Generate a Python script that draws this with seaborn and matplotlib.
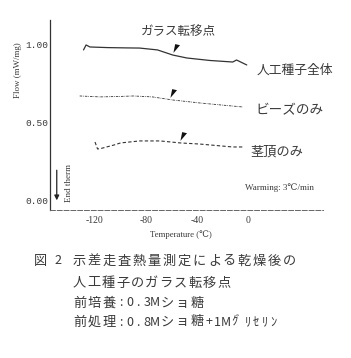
import matplotlib
matplotlib.use("Agg")
import matplotlib.pyplot as plt
import seaborn as sns
import pandas as pd
import numpy as np
from matplotlib.path import Path

# ---- data ----
temps_whole = [-129, -127, -124, -110, -95, -85, -71, -59, -48, -30, -12, -9, -1]
flow_whole = [0.968, 1.000, 0.987, 0.983, 0.981, 0.980, 0.968, 0.935, 0.916, 0.900, 0.890, 0.903, 0.871]

temps_beads = [-132, -116, -100, -90, -75, -59, -38, -20, -4]
flow_beads = [0.671, 0.665, 0.668, 0.671, 0.665, 0.645, 0.626, 0.612, 0.600]

temps_tip = [-120, -118, -115, -105, -100, -85, -69, -53, -38, -12, -4]
flow_tip = [0.374, 0.329, 0.333, 0.355, 0.368, 0.381, 0.381, 0.368, 0.361, 0.342, 0.342]

series_names = ["人工種子全体", "ビーズのみ", "茎頂のみ"]
tg_temps = [-56.5, -59, -51]
tg_flows = [0.980, 0.690, 0.410]

x_major = [-120, -80, -40, 0]
x_minor = [-140, -100, -60, -20, 20, 40]
y_ticks = [0.0, 0.5, 1.0]
y_ticklabels = ["0.00", "0.50", "1.00"]

caption_head = "図２"
caption_lines = [
    "示差走査熱量測定による乾燥後の",
    "人工種子のガラス転移点",
    "前培養:0.3Mショ糖",
    "前処理:0.8Mショ糖+1Mｸﾞﾘｾﾘﾝ",
]

sns.set_theme(style="white")
plt.rcParams['font.family'] = ['Noto Sans CJK JP', 'DejaVu Sans']

TXT = "#3a3a3a"
W, H = 351, 358
fig = plt.figure(figsize=(W/100, H/100), dpi=100)
ax = fig.add_axes([50/W, 1-210/H, (323-50)/W, (210-20)/H])

df = pd.concat([
    pd.DataFrame({"T": temps_whole, "F": flow_whole, "s": series_names[0]}),
    pd.DataFrame({"T": temps_beads, "F": flow_beads, "s": series_names[1]}),
    pd.DataFrame({"T": temps_tip, "F": flow_tip, "s": series_names[2]}),
])

styles = {series_names[0]: ("-", 0.9), series_names[1]: ((0, (3, 1.2, 0.8, 1.2)), 0.6),
          series_names[2]: ((0, (3, 2)), 0.8)}
for name in series_names:
    sub = df[df.s == name]
    ls, lw = styles[name]
    sns.lineplot(data=sub, x="T", y="F", ax=ax, color="#333333", lw=lw,
                 linestyle=ls, sort=False, estimator=None)

flag = Path([(-0.3, 1.0), (0.8, 0.75), (-0.7, -1.0), (-0.3, 1.0)],
            [Path.MOVETO, Path.LINETO, Path.LINETO, Path.CLOSEPOLY])
ax.scatter(tg_temps, tg_flows, marker=flag, s=40, color="#111111", lw=0, zorder=5)

ax.set_xlim(-155.3, 58.8)
ax.set_ylim(-0.0645, 1.161)
ax.set_xticks(x_major)
ax.set_xticks(x_minor, minor=True)
ax.set_xticklabels([str(v) for v in x_major], family="Liberation Serif", fontsize=7, color=TXT)
ax.set_yticks(y_ticks)
ax.set_yticklabels(y_ticklabels, family="Liberation Mono", fontsize=6.8, color=TXT)
ax.tick_params(axis="x", which="both", direction="in", length=4, width=0.7, color="#555555", pad=4)
ax.tick_params(axis="y", direction="in", length=0, pad=1)
ax.set_xlabel("")
ax.set_ylabel("")
for side in ["top", "right"]:
    ax.spines[side].set_visible(False)
ax.spines["left"].set_color("#333333")
ax.spines["left"].set_linewidth(0.9)
ax.spines["bottom"].set_color("#666666")
ax.spines["bottom"].set_linewidth(0.7)
ax.spines["bottom"].set_linestyle((0, (5, 2)))

# labels on plot
ax.text(-55, 1.084, "ガラス転移点", fontsize=9, ha="center", va="center", color=TXT)
ax.text(7, 0.839, series_names[0], fontsize=9.2, ha="left", va="center", color=TXT)
ax.text(5.5, 0.58, series_names[1], fontsize=9.8, ha="left", va="center", color=TXT)
ax.text(1.6, 0.31, series_names[2], fontsize=9.5, ha="left", va="center", color=TXT)
ax.text(-2.4, 0.077, "Warming: 3℃/min", fontsize=6.5, ha="left", va="center",
        family=["Liberation Serif", "DejaVu Serif"], color=TXT)

# endotherm arrow
ax.annotate("", xy=(-150, -0.02), xytext=(-150, 0.21),
            arrowprops=dict(arrowstyle="-|>", color="#222222", lw=0.9, mutation_scale=7))
ax.text(-140.5, 0.11, "End therm", rotation=90, fontsize=6.5, ha="center", va="center",
        family=["Liberation Serif", "DejaVu Serif"], color=TXT)

fig.text(18/W, 1-70/H, "Flow (mW/mg)", rotation=90, fontsize=6.5, ha="center", va="center",
         family=["Liberation Serif", "DejaVu Serif"], color=TXT)
fig.text(181/W, 1-235/H, "Temperature (℃)", fontsize=6.3, ha="center", va="center",
         family=["Liberation Serif", "DejaVu Serif"], color=TXT)


def spaced(text, x0, y, full=15.0, half=8.5, size=9.5):
    x = x0
    for ch in text:
        o = ord(ch)
        is_half = o < 0x2E80 or 0xFF61 <= o <= 0xFF9F
        step = half if is_half else full
        if ch == "ﾞ":
            fig.text((x - 2.5) / W, 1 - (y - 3) / H, ch, fontsize=size * 0.8,
                     ha="left", va="center", color=TXT)
            x += step * 0.6
            continue
        fig.text((x + step / 2) / W, 1 - y / H, ch, fontsize=size if not is_half else size * 0.95,
                 ha="center", va="center", color=TXT)
        x += step


cap_y = [261, 283, 303, 322]
spaced("図", 33, cap_y[0])
spaced("2", 54, cap_y[0])
spaced(caption_lines[0], 72, cap_y[0])
spaced(caption_lines[1], 72, cap_y[1], full=14.5)
spaced(caption_lines[2], 72, cap_y[2])
spaced(caption_lines[3], 72, cap_y[3])

fig.savefig("out.png", dpi=100)
